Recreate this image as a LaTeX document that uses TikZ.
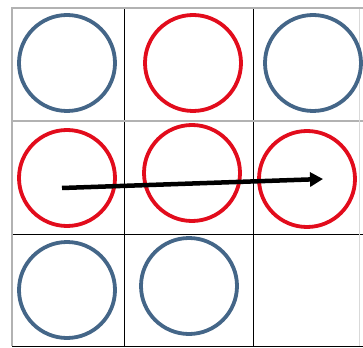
\documentclass[tikz,border=0pt]{standalone}
\usetikzlibrary{arrows.meta,positioning}

\definecolor{ringblue}{RGB}{68,102,136}
\definecolor{ringred}{RGB}{226,12,28}

\begin{document}
\begin{tikzpicture}[x=1pt, y=-1pt, >={Triangle[length=13pt,width=14pt]}]
    % Estilos
    \tikzstyle{ring} = [draw, circle, line width=3.8pt, minimum size=96pt, inner sep=0pt]
    \tikzstyle{bluering} = [ring, ringblue]
    \tikzstyle{redring} = [ring, ringred]
    \tikzstyle{outerline} = [gray!60, line width=1.2pt]
    \tikzstyle{innerline} = [black, line width=0.9pt]

    \useasboundingbox (0,0) rectangle (363,347);

    % --- Rejilla ---
    \draw[innerline] (124.5,8) -- (124.5,346);
    \draw[innerline] (253.5,8) -- (253.5,346);
    \draw[innerline] (12,234) -- (363,234);
    \draw[innerline] (12,346) -- (363,346);
    \draw[outerline] (12,121) -- (363,121);
    \draw[gray!30, line width=1pt] (359.5,8) -- (359.5,346);
    \draw[outerline] (12,346) -- (12,8) -- (363,8);

    % --- Fila superior ---
    \node[bluering] (c11) at (67,63) {};
    \node[redring] (c12) at (193,63) {};
    \node[bluering] (c13) at (313,63) {};

    % --- Fila central ---
    \node[redring] (c21) at (67,178) {};
    \node[redring] (c22) at (192,173) {};
    \node[redring] (c23) at (307,179) {};

    % --- Fila inferior ---
    \node[bluering] (c31) at (67,290) {};
    \node[bluering] (c32) at (189,286) {};

    % --- Flecha ---
    \coordinate (start) at (62,188);
    \coordinate (stop) at (323,179);
    \draw[->, line width=4.5pt] (start) -- (stop);

\end{tikzpicture}
\end{document}
